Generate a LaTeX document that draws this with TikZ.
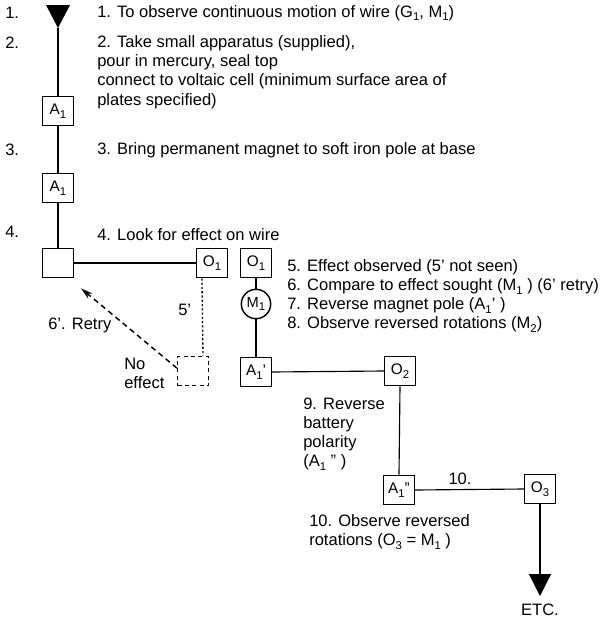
\documentclass[tikz,border=0pt]{standalone}
\usepackage{fontspec}
\setmainfont{Liberation Sans}
\usetikzlibrary{arrows.meta,calc}
\newcommand{\sub}[1]{\raisebox{-0.45ex}{\fontsize{8.5}{9}\selectfont #1}}
\begin{document}
\begin{tikzpicture}[x=0.75pt,y=-0.75pt,
  box/.style={draw,line width=1.1pt,minimum width=23pt,minimum height=22pt,inner sep=0pt,
    font=\fontsize{11.5}{12}\selectfont},
  nbox/.style={draw,dashed,dash pattern=on 3pt off 2.5pt,line width=1pt,minimum width=23pt,minimum height=22pt,inner sep=0pt},
  lbl/.style={anchor=west,inner sep=0pt,font=\fontsize{12.4}{14.4}\selectfont,align=left},
  conn/.style={line width=0.85pt},
  dotconn/.style={line width=1pt,dash pattern=on 1.6pt off 1.6pt},
  dashconn/.style={line width=1.1pt,dash pattern=on 4pt off 3pt,-{Stealth[length=9pt,width=5pt]}}]
\useasboundingbox (0,0) rectangle (611,621);

% step numbers
\node[lbl] (n1) at (5,13) {1.};
\node[lbl] (n2) at (5,43) {2.};
\node[lbl] (n3) at (5,150) {3.};
\node[lbl] (n4) at (5,232) {4.};

% top triangle
\fill (46,5) -- (70,5) -- (58,28) -- cycle;
\coordinate (top) at (58,28);

% boxes
\node[box] (A1a) at (58,111) {A\sub{1}};
\node[box] (A1b) at (58,188) {A\sub{1}};
\node[box] (B4)  at (58,263) {};
\node[box] (O1a) at (212,263) {O\sub{1}};
\node[box] (O1b) at (256,263) {O\sub{1}};
\node[draw,circle,line width=1.1pt,minimum size=22pt,inner sep=0pt,font=\fontsize{11}{12}\selectfont] (M1) at (256,304) {M\sub{1}};
\node[box] (A1p) at (256,372) {A\sub{1}'};
\node[nbox] (D) at (193,371) {};
\node[box] (O2) at (400,371) {O\sub{2}};
\node[box] (A1pp) at (399,490) {A\sub{1}''};
\node[box] (O3) at (540,489) {O\sub{3}};
\coordinate (end) at (540,596);

% connectors
\draw[conn] (top) -- (A1a.north);
\draw[conn] (A1a.south) -- (A1b.north);
\draw[conn] (A1b.south) -- (B4.north);
\draw[conn] (B4.east) -- (O1a.west);
\draw[conn] (O1b.south) -- (M1.north);
\draw[conn] (M1.south) -- (A1p.north);
\draw[conn] (A1p.east) -- (O2.west);
\draw[conn] (O2.south) -- (A1pp.north);
\draw[conn] (A1pp.east) -- (O3.west);
\draw[conn,-{Triangle[length=16.5pt,width=16.5pt]}] (O3.south) -- (end);
\draw[dotconn] ($(O1a.south west)+(6,0)$) -- ($(D.north east)+(-6,0)$);
\draw[dashconn] (D.170) -- ($(B4.south east)+(7,10)$);

% texts
\node[lbl] (t1) at (97,13) {1. To observe continuous motion of wire (G\sub{1}, M\sub{1})};
\node[lbl] (t2) at (97,72) {2. Take small apparatus (supplied),\\pour in mercury, seal top\\connect to voltaic cell (minimum surface area of\\plates specified)};
\node[lbl] (t3) at (97,150) {3. Bring permanent magnet to soft iron pole at base};
\node[lbl] (t4) at (97,235) {4. Look for effect on wire};
\node[lbl] (t58) at (287,296) {5. Effect observed (5' not seen)\\6. Compare to effect sought (M\sub{1} ) (6' retry)\\7. Reverse magnet pole (A\sub{1}' )\\8. Observe reversed rotations (M\sub{2})};
\node[lbl] (t5p) at (178,310) {5'};
\node[lbl] (t6p) at (48,325) {6'. Retry};
\node[lbl] (tno) at (124,373) {No\\effect};
\node[lbl] (t9) at (303,434) {9. Reverse\\battery\\polarity\\(A\sub{1} '' )};
\node[lbl,anchor=center] (t10a) at (460,479) {10.};
\node[lbl] (t10) at (309,532) {10. Observe reversed\\rotations (O\sub{3} = M\sub{1} )};
\node[lbl,anchor=center] (etc) at (540,610) {ETC.};
\end{tikzpicture}
\end{document}
